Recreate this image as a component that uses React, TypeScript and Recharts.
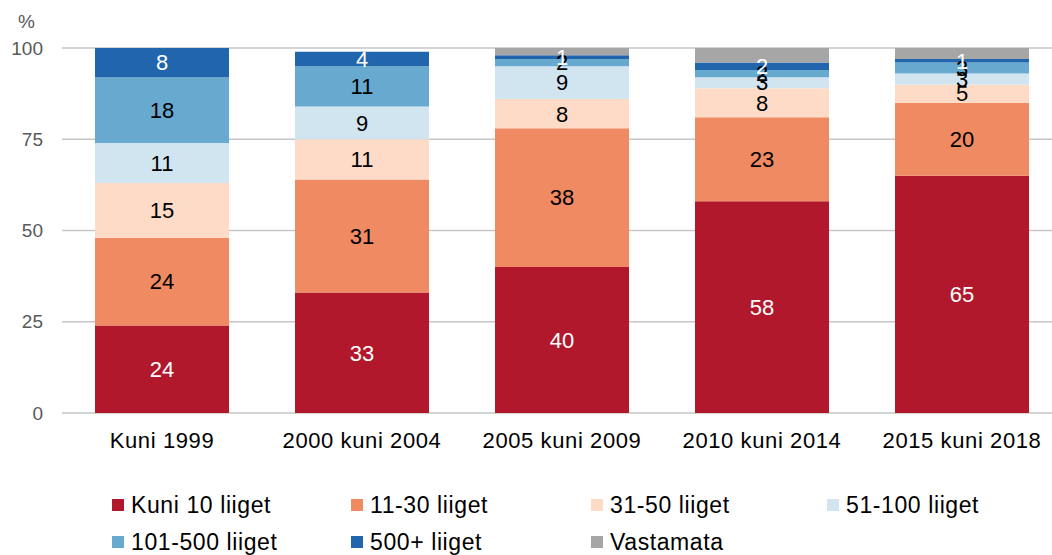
import React from "react";
import { Bar, BarChart, CartesianGrid, LabelList, Legend, XAxis, YAxis } from "recharts";

const CATEGORIES = ["Kuni 1999", "2000 kuni 2004", "2005 kuni 2009", "2010 kuni 2014", "2015 kuni 2018"];
const KUNI_10 = [24, 33, 40, 58, 65];
const L11_30 = [24, 31, 38, 23, 20];
const L31_50 = [15, 11, 8, 8, 5];
const L51_100 = [11, 9, 9, 3, 3];
const L101_500 = [18, 11, 2, 2, 3];
const L500_PLUS = [8, 4, 1, 2, 1];
const VASTAMATA = [0, 0, 2, 4, 3];
const Y_TICKS = [0, 25, 50, 75, 100];

const SERIES = [
  { key: "k10", name: "Kuni 10 liiget", values: KUNI_10, color: "#b2182b", label: "#ffffff" },
  { key: "k30", name: "11-30 liiget", values: L11_30, color: "#ef8a62", label: "#000000" },
  { key: "k50", name: "31-50 liiget", values: L31_50, color: "#fddbc7", label: "#000000" },
  { key: "k100", name: "51-100 liiget", values: L51_100, color: "#d1e5f0", label: "#000000" },
  { key: "k500", name: "101-500 liiget", values: L101_500, color: "#67a9cf", label: "#000000" },
  { key: "k500p", name: "500+ liiget", values: L500_PLUS, color: "#2166ac", label: "#ffffff" },
  { key: "vast", name: "Vastamata", values: VASTAMATA, color: "#a6a6a6", label: null },
];

const data = CATEGORIES.map((c, i) => {
  const row: Record<string, string | number> = { cat: c };
  SERIES.forEach((s) => (row[s.key] = s.values[i]));
  return row;
});

const FONT = "'Liberation Sans', Arial, sans-serif";

function LegendBox() {
  return (
    <div
      style={{
        display: "grid",
        gridTemplateColumns: "239px 240px 236px 220px",
        rowGap: 9,
        fontFamily: FONT,
        fontSize: 23,
        letterSpacing: 0.6,
        color: "#000",
      }}
    >
      {SERIES.map((s) => (
        <div key={s.key} style={{ display: "flex", alignItems: "center", height: 28 }}>
          <span style={{ width: 12, height: 12, background: s.color, marginRight: 7, display: "inline-block" }} />
          <span>{s.name}</span>
        </div>
      ))}
    </div>
  );
}

export default function App() {
  return (
    <div style={{ position: "absolute", left: 0, top: 0, width: 1052, height: 555, overflow: "hidden", background: "#fff" }}>
      <div style={{ position: "absolute", left: 18, top: 11, fontFamily: FONT, fontSize: 19, color: "#595959" }}>%</div>
      <BarChart width={1062} height={555} data={data} margin={{ top: 48, right: 0, left: 0, bottom: 102 }} barSize={134}>
        <CartesianGrid vertical={false} stroke="#c6c6c6" strokeWidth={1.5} />
        <XAxis
          dataKey="cat"
          axisLine={false}
          tickLine={false}
          tickMargin={13}
          height={40}
          interval={0}
          tick={{ fill: "#000", fontFamily: FONT, fontSize: 22, letterSpacing: 0.6 }}
        />
        <YAxis
          width={62}
          domain={[0, 100]}
          ticks={Y_TICKS}
          axisLine={false}
          tickLine={false}
          tickMargin={13}
          tick={{ fill: "#595959", fontFamily: FONT, fontSize: 19 }}
        />
        {SERIES.map((s) => (
          <Bar key={s.key} dataKey={s.key} name={s.name} stackId="a" fill={s.color} isAnimationActive={false}>
            {s.label && (
              <LabelList
                dataKey={s.key}
                position="center"
                fill={s.label}
                style={{ fontFamily: FONT, fontSize: 22 }}
              />
            )}
          </Bar>
        ))}
        <Legend
          layout="horizontal"
          verticalAlign="middle"
          content={() => <LegendBox />}
          wrapperStyle={{ top: 491, left: 112, width: 950, height: 70 }}
        />
      </BarChart>
    </div>
  );
}
